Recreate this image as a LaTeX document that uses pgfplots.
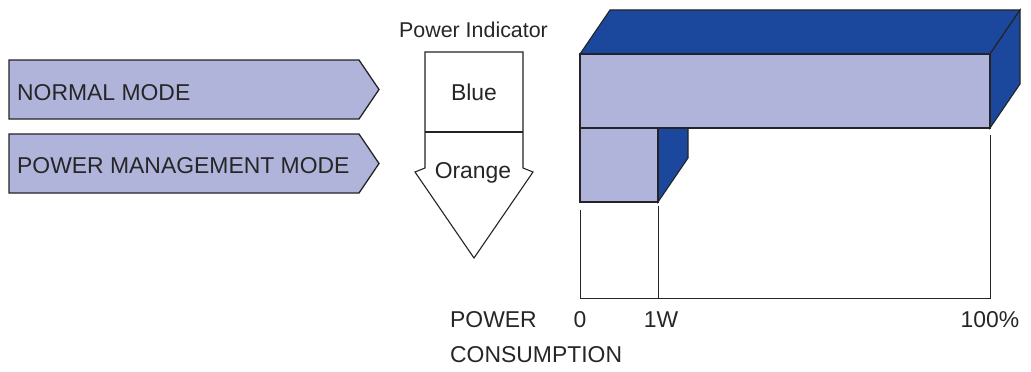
\documentclass[border=0pt]{standalone}
\usepackage{fontspec}
\setmainfont{Liberation Sans}
\usepackage{pgfplots}
\pgfplotsset{compat=1.18}
\definecolor{lightbar}{RGB}{176,180,218}
\definecolor{darkbar}{RGB}{27,72,156}
\definecolor{edge}{RGB}{35,35,40}
\begin{document}
\begin{tikzpicture}
\begin{axis}[
  width=1031bp, height=371bp, scale only axis,
  xmin=0, xmax=1031, ymin=0, ymax=371, y dir=reverse,
  hide axis, clip=false, no markers,
  every axis plot/.append style={line join=miter},
]
% frame for bounding box
\addplot[draw=none, forget plot] coordinates {(0,0)(1031,371)};
% mode arrows
\addplot[fill=lightbar, draw=edge, line width=1.3pt] coordinates {(9,60)(359,60)(379,89.5)(359,119)(9,119)} -- cycle;
\addplot[fill=lightbar, draw=edge, line width=1.3pt] coordinates {(9,134)(359,134)(379,163.5)(359,193)(9,193)} -- cycle;
% power indicator
\addplot[fill=white, draw=edge, line width=1.1pt] coordinates {(425,52)(523,52)(523,168)(533,172)(474,258)(415,172)(425,168)} -- cycle;
\addplot[draw=edge, line width=1.1pt] coordinates {(425,132)(523,132)};
% guide lines
\addplot[draw=edge, line width=0.8pt] coordinates {(580,210)(580,298)(990,298)(990,135)};
\addplot[draw=edge, line width=0.8pt] coordinates {(658,206)(658,298)};
% small bar (power management, 1W)
\addplot[fill=darkbar, draw=edge, line width=1.1pt] coordinates {(658,128)(688,84)(688,158)(658,202)} -- cycle;
\addplot[fill=lightbar, draw=edge, line width=1.1pt] coordinates {(580,128)(658,128)(658,202)(580,202)} -- cycle;
% big bar (normal, 100%)
\addplot[fill=darkbar, draw=edge, line width=1.1pt] coordinates {(580,54)(610,10)(1020,10)(990,54)} -- cycle;
\addplot[fill=darkbar, draw=edge, line width=1.1pt] coordinates {(990,54)(1020,10)(1020,84)(990,128)} -- cycle;
\addplot[fill=lightbar, draw=edge, line width=1.1pt] coordinates {(580,54)(990,54)(990,128)(580,128)} -- cycle;
% texts
\begin{scope}[every node/.style={inner sep=0pt, text=black!85, font=\fontsize{23}{27}\selectfont}]
\node[anchor=base west] at (axis cs:17,100) {NORMAL MODE};
\node[anchor=base west] at (axis cs:17,173) {POWER MANAGEMENT MODE};
\node[anchor=base, font=\fontsize{21.5}{25}\selectfont] at (axis cs:473.5,37) {Power Indicator};
\node[anchor=base] at (axis cs:474,100) {Blue};
\node[anchor=base] at (axis cs:473,178) {Orange};
\node[anchor=base west] at (axis cs:450,327) {POWER};
\node[anchor=base west] at (axis cs:450,362) {CONSUMPTION};
\node[anchor=base] at (axis cs:580,327) {0};
\node[anchor=base] at (axis cs:661,327) {1W};
\node[anchor=base] at (axis cs:990,327) {100\%};
\end{scope}
\end{axis}
\end{tikzpicture}
\end{document}
